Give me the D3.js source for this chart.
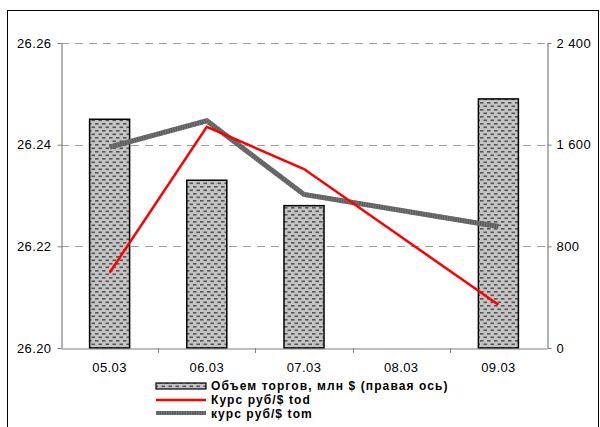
<!DOCTYPE html>
<html>
<head>
<meta charset="utf-8">
<script src="https://cdn.jsdelivr.net/npm/d3@7"></script>
<style>
  html, body { margin: 0; padding: 0; background: #fff; }
  svg { display: block; font-family: Arial, "Liberation Sans", sans-serif; }
</style>
</head>
<body>
<svg id="chart" width="600" height="427"></svg>
<script>
// Trading dates
const dates = ["05.03", "06.03", "07.03", "08.03", "09.03"];
// Trading volume, mln $ (right axis); no trading data for 08.03
const volume = [1800, 1320, 1120, null, 1960];
// RUB/$ rate, "today" settlement
const rateTod = [26.2148, 26.2435, 26.2352, null, 26.2085];
// RUB/$ rate, "tomorrow" settlement
const rateTom = [26.2395, 26.2447, 26.2302, null, 26.2239];
// Axis ticks
const leftTicks = [26.20, 26.22, 26.24, 26.26];
const rightTicks = [0, 800, 1600, 2400];
const legendLabels = ["Объем торгов, млн $ (правая ось)", "Курс руб/$ tod", "курс руб/$ tom"];

const svg = d3.select("#chart");
const plot = { left: 61, right: 547, top: 43, bottom: 348 };

// Brick-like dotted fill used for the volume bars
const defs = svg.append("defs");
const pat = defs.append("pattern")
  .attr("id", "brick").attr("patternUnits", "userSpaceOnUse")
  .attr("width", 7).attr("height", 7);
pat.append("rect").attr("width", 7).attr("height", 7).attr("fill", "#c4c4c4");
pat.append("rect").attr("x", 0.5).attr("y", 0.5).attr("width", 3.5).attr("height", 1.6).attr("fill", "#555");
pat.append("rect").attr("x", 4).attr("y", 4).attr("width", 3.5).attr("height", 1.6).attr("fill", "#555");
pat.append("rect").attr("x", -3).attr("y", 4).attr("width", 3.5).attr("height", 1.6).attr("fill", "#555");

// Outer frame
svg.append("rect").attr("x", 7.5).attr("y", 10.5).attr("width", 591).attr("height", 430)
  .attr("fill", "none").attr("stroke", "#000").attr("stroke-width", 1);

const x = d3.scaleBand().domain(dates).range([plot.left, plot.right]);
const yL = d3.scaleLinear().domain([26.20, 26.26]).range([plot.bottom, plot.top]);
const yR = d3.scaleLinear().domain([0, 2400]).range([plot.bottom, plot.top]);

// Dashed grid lines
svg.append("g").selectAll("line").data(leftTicks.filter(v => v > 26.20))
  .join("line")
  .attr("x1", plot.left).attr("x2", plot.right)
  .attr("y1", d => Math.round(yL(d)) + 0.5).attr("y2", d => Math.round(yL(d)) + 0.5)
  .attr("stroke", "#a0a0a0").attr("stroke-width", 1.2).attr("stroke-dasharray", "8,6");

// Volume bars
const barW = 40;
svg.append("g").selectAll("rect")
  .data(dates.map((d, i) => ({ d, v: volume[i] })).filter(o => o.v != null))
  .join("rect")
  .attr("x", o => x(o.d) + x.bandwidth() / 2 - barW / 2)
  .attr("y", o => yR(o.v))
  .attr("width", barW)
  .attr("height", o => yR(0) - yR(o.v))
  .attr("fill", "url(#brick)")
  .attr("stroke", "#000").attr("stroke-width", 1.5);

// Axes
const fmtL = d3.format(".2f");
const fmtR = v => d3.format(",")(v).replace(/,/g, " ");

const axL = svg.append("g").attr("transform", `translate(${plot.left + 0.5},0)`)
  .call(d3.axisLeft(yL).tickValues(leftTicks).tickFormat(fmtL).tickSize(4).tickSizeOuter(0));
const axR = svg.append("g").attr("transform", `translate(${plot.right + 0.5},0)`)
  .call(d3.axisRight(yR).tickValues(rightTicks).tickFormat(fmtR).tickSize(4).tickSizeOuter(0));
const axB = svg.append("g").attr("transform", `translate(0,${plot.bottom + 0.5})`)
  .call(d3.axisBottom(x).tickSize(0).tickSizeOuter(0).tickPadding(14));

[axL, axR, axB].forEach(g => {
  g.select(".domain").attr("stroke", "#808080").attr("stroke-width", 1.2);
  g.selectAll(".tick line").attr("stroke", "#808080");
  g.selectAll(".tick text").attr("fill", "#000").attr("font-size", 13)
    .attr("letter-spacing", 0.4)
    .attr("font-family", "Arial, 'Liberation Sans', sans-serif");
});
axL.selectAll(".tick text").attr("x", -10);
axR.selectAll(".tick text").attr("x", 9);

// Category boundary ticks on the x axis
svg.append("g").selectAll("line").data(dates.slice(1))
  .join("line")
  .attr("x1", d => Math.round(x(d)) + 0.5).attr("x2", d => Math.round(x(d)) + 0.5)
  .attr("y1", plot.bottom).attr("y2", plot.bottom + 5)
  .attr("stroke", "#808080").attr("stroke-width", 1);

// Rate lines (08.03 has no quote, neighbours are joined directly)
const pts = arr => dates.map((d, i) => [d, arr[i]]).filter(p => p[1] != null);
const line = d3.line().x(p => x(p[0]) + x.bandwidth() / 2).y(p => yL(p[1]));

svg.append("path").datum(pts(rateTom)).attr("d", line)
  .attr("fill", "none").attr("stroke", "#5c5c5c").attr("stroke-width", 5);
svg.append("path").datum(pts(rateTom)).attr("d", line)
  .attr("fill", "none").attr("stroke", "#7a7a7a").attr("stroke-width", 5)
  .attr("stroke-dasharray", "1,1.5");
svg.append("path").datum(pts(rateTod)).attr("d", line)
  .attr("fill", "none").attr("stroke", "#ff0000").attr("stroke-width", 2.5);

// Legend
const lg = svg.append("g");
const lx = 156, lw = 50;
lg.append("rect").attr("x", lx).attr("y", 383).attr("width", lw).attr("height", 6)
  .attr("fill", "url(#brick)").attr("stroke", "#000").attr("stroke-width", 1.2);
lg.append("line").attr("x1", lx).attr("x2", lx + lw).attr("y1", 400).attr("y2", 400)
  .attr("stroke", "#ff0000").attr("stroke-width", 2.5);
lg.append("line").attr("x1", lx).attr("x2", lx + lw).attr("y1", 413).attr("y2", 413)
  .attr("stroke", "#5c5c5c").attr("stroke-width", 4);
lg.append("line").attr("x1", lx).attr("x2", lx + lw).attr("y1", 413).attr("y2", 413)
  .attr("stroke", "#7a7a7a").attr("stroke-width", 4).attr("stroke-dasharray", "1,1.5");
lg.selectAll("text").data(legendLabels).join("text")
  .attr("x", 211).attr("y", (d, i) => 390 + i * 14)
  .attr("font-size", 12).attr("font-weight", "bold").attr("letter-spacing", 1.1)
  .attr("fill", "#000")
  .text(d => d);
</script>
</body>
</html>
